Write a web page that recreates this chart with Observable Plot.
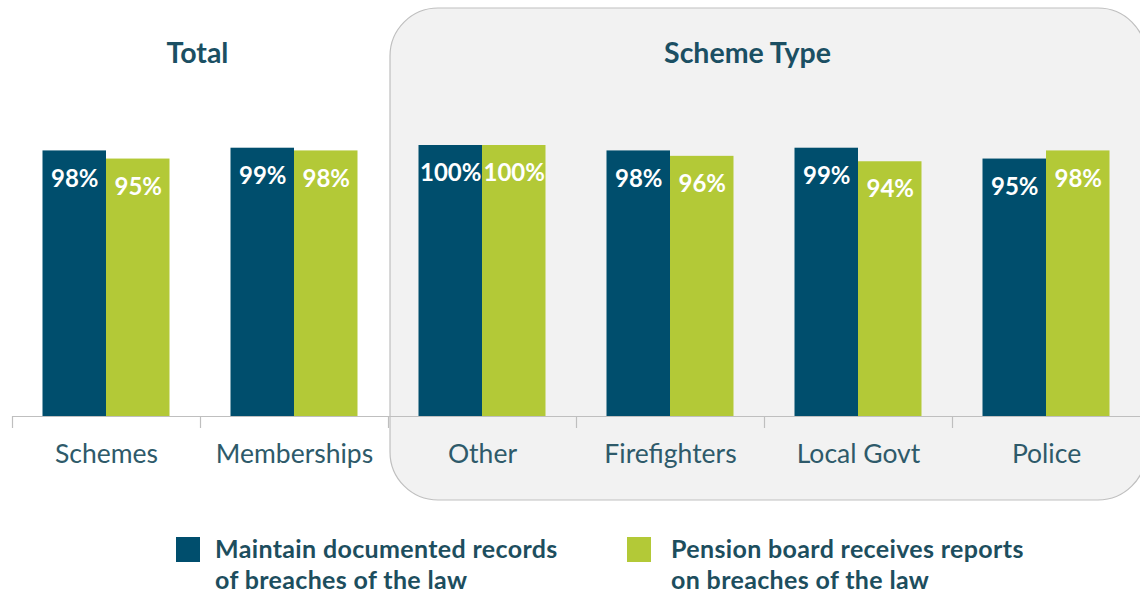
<!DOCTYPE html>
<html>
<head>
<meta charset="utf-8">
<script src="https://cdn.jsdelivr.net/npm/d3@7"></script>
<script src="https://cdn.jsdelivr.net/npm/@observablehq/plot@0.6"></script>
<style>
  html, body { margin: 0; padding: 0; background: #ffffff; }
  body { width: 1140px; height: 592px; overflow: hidden; font-family: Lato, "Open Sans", sans-serif; }
  #chart svg { display: block; overflow: visible; }
  .legend { position: relative; height: 72px; }
  .item { position: absolute; top: 17px; display: flex; align-items: flex-start; }
  .sw { width: 24px; height: 25px; flex: none; }
  .lt { font-weight: 700; font-size: 25px; line-height: 31px; color: #1d4e5e; margin-top: -4px; letter-spacing: 0.35px; }
</style>
</head>
<body>
<div id="chart"></div>
<div class="legend">
  <div class="item" style="left:176px"><div class="sw" style="background:#004e6d;margin-right:15px"></div><div class="lt" id="l1"></div></div>
  <div class="item" style="left:627px"><div class="sw" style="background:#b3c937;margin-right:20px"></div><div class="lt" id="l2"></div></div>
</div>
<script>
const categories = ["Schemes", "Memberships", "Other", "Firefighters", "Local Govt", "Police"];
const maintainValues = [98, 99, 100, 98, 99, 95];
const pensionValues = [95, 98, 100, 96, 94, 98];
const seriesNames = ["Maintain documented records\nof breaches of the law", "Pension board receives reports\non breaches of the law"];
const groupTitles = ["Total", "Scheme Type"];
const panelCategories = ["Other", "Police"];

const darkColor = "#004e6d";
const greenColor = "#b3c937";

const maintain = categories.map((c, i) => ({category: c, value: maintainValues[i]}));
const pension = categories.map((c, i) => ({category: c, value: pensionValues[i]}));

document.getElementById("l1").innerHTML = seriesNames[0].replace("\n", "<br>");
document.getElementById("l2").innerHTML = seriesNames[1].replace("\n", "<br>");

function panel(index, scales, values, dimensions, context) {
  const x = scales.x;
  const bw = x.bandwidth ? x.bandwidth() : (x(categories[1]) - x(categories[0]));
  const g = d3.create("svg:g");
  const x0 = x(panelCategories[0]) + 2;
  const x1 = x(panelCategories[1]) + bw + 6;
  g.append("rect")
    .attr("x", x0).attr("y", 8)
    .attr("width", x1 - x0).attr("height", 492)
    .attr("rx", 48).attr("ry", 48)
    .attr("fill", "#f2f2f2").attr("stroke", "#bfbfbf").attr("stroke-width", 1.2);
  const yb = dimensions.height - dimensions.marginBottom;
  g.append("line")
    .attr("x1", x(categories[0])).attr("x2", x(categories[categories.length - 1]) + bw)
    .attr("y1", yb + 0.5).attr("y2", yb + 0.5)
    .attr("stroke", "#bfbfbf").attr("stroke-width", 1.2);
  categories.forEach(c => {
    g.append("line")
      .attr("x1", x(c) + 0.5).attr("x2", x(c) + 0.5)
      .attr("y1", yb).attr("y2", yb + 12)
      .attr("stroke", "#bfbfbf").attr("stroke-width", 1.2);
  });
  return g.node();
}

const chart = Plot.plot({
  width: 1140,
  height: 520,
  marginLeft: 12,
  marginRight: 0,
  marginTop: 145,
  marginBottom: 104,
  style: {fontFamily: "Lato, 'Open Sans', sans-serif", background: "transparent", overflow: "visible"},
  x: {domain: categories, padding: 0, label: null},
  y: {domain: [0, 100], axis: null},
  marks: [
    panel,
    Plot.barY(maintain, {x: "category", y: "value", fill: darkColor, insetLeft: 30.5, insetRight: 94}),
    Plot.barY(pension, {x: "category", y: "value", fill: greenColor, insetLeft: 94, insetRight: 30.5}),
    Plot.text(maintain, {x: "category", y: "value", text: d => d.value + "%", dx: -31.75, dy: 28, fill: "white", fontSize: 24, fontWeight: 700, lineAnchor: "middle", letterSpacing: "-0.3px"}),
    Plot.text(pension, {x: "category", y: "value", text: d => d.value + "%", dx: 31.75, dy: 28, fill: "white", fontSize: 24, fontWeight: 700, lineAnchor: "middle", letterSpacing: "-0.3px"}),
    Plot.axisX({tickSize: 0, tickPadding: 28, fontSize: 26.5, color: "#2e5a6a", label: null}),
    Plot.text([groupTitles[0]], {x: () => "Memberships", frameAnchor: "top", dx: -97, dy: -92, fontSize: 28.5, fontWeight: 700, fill: "#1b4f63", lineAnchor: "middle"}),
    Plot.text([groupTitles[1]], {x: () => "Local Govt", frameAnchor: "top", dx: -111, dy: -92, fontSize: 28.5, fontWeight: 700, fill: "#1b4f63", lineAnchor: "middle"})
  ]
});
document.getElementById("chart").appendChild(chart);
</script>
</body>
</html>
